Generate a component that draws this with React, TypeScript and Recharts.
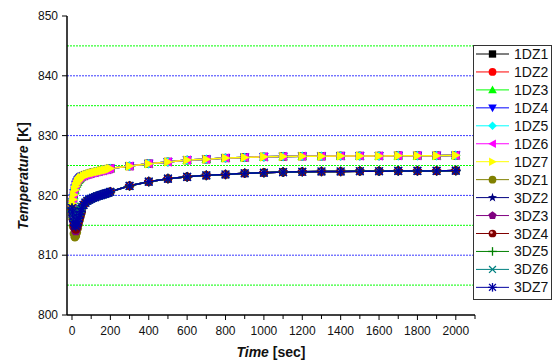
import React from 'react';
import { LineChart, Line, XAxis, YAxis, CartesianGrid } from 'recharts';

// time samples (sec)
const headTimes = [0, 3, 6, 10, 15, 20, 25, 30, 35, 40, 45, 50];
const tailTimes = [60, 70, 80, 90, 100, 110, 120, 130, 140, 150, 160, 170, 180, 190, 200,
  300, 400, 500, 600, 700, 800, 900, 1000, 1100, 1200, 1300, 1400, 1500, 1600, 1700, 1800, 1900, 2000];

// shared settled parts of the two groups (K)
const upperTail = [823.25, 823.4, 823.5, 823.6, 823.7, 823.8, 823.85, 823.95, 824.0, 824.1, 824.15, 824.25, 824.3, 824.4, 824.5,
  824.9, 825.3, 825.6, 825.9, 826.05, 826.25, 826.35, 826.45, 826.5, 826.55, 826.55, 826.6, 826.6, 826.6, 826.65, 826.65, 826.65, 826.7];
const lowerTail = [818.4, 818.8, 819.1, 819.3, 819.45, 819.6, 819.7, 819.85, 819.95, 820.05, 820.15, 820.25, 820.35, 820.45, 820.6,
  821.6, 822.3, 822.8, 823.1, 823.35, 823.5, 823.7, 823.8, 823.9, 823.95, 824.0, 824.0, 824.05, 824.05, 824.1, 824.1, 824.1, 824.15];

// early transients per series (K)
const head1DZ1 = [818.0, 818.6, 819.3, 820.1, 821.0, 821.6, 822.0, 822.3, 822.6, 822.8, 823.0, 823.1];
const head1DZ2 = [818.1, 818.7, 819.4, 820.2, 821.0, 821.6, 822.0, 822.3, 822.6, 822.8, 822.95, 823.05];
const head1DZ3 = [817.9, 818.5, 819.2, 820.0, 820.9, 821.5, 822.0, 822.3, 822.6, 822.8, 823.0, 823.1];
const head1DZ4 = [818.2, 818.9, 819.6, 820.4, 821.2, 821.8, 822.2, 822.5, 822.7, 822.9, 823.05, 823.15];
const head1DZ5 = [818.0, 818.7, 819.4, 820.2, 821.1, 821.7, 822.1, 822.4, 822.6, 822.8, 823.0, 823.1];
const head1DZ6 = [818.3, 819.0, 819.7, 820.5, 821.3, 821.9, 822.3, 822.6, 822.8, 823.0, 823.1, 823.2];
const head1DZ7 = [818.0, 818.6, 819.3, 820.1, 820.9, 821.5, 821.9, 822.3, 822.5, 822.7, 822.9, 823.0];
const head3DZ1 = [817.6, 816.2, 814.8, 813.6, 813.0, 813.2, 813.8, 814.5, 815.2, 815.9, 816.5, 817.1];
const head3DZ2 = [817.8, 817.2, 816.5, 815.8, 815.3, 815.2, 815.5, 816.0, 816.5, 817.0, 817.5, 817.9];
const head3DZ3 = [817.6, 816.7, 815.7, 814.8, 814.2, 814.0, 814.3, 814.9, 815.5, 816.1, 816.7, 817.3];
const head3DZ4 = [817.7, 816.9, 816.0, 815.1, 814.5, 814.3, 814.6, 815.1, 815.7, 816.3, 816.9, 817.4];
const head3DZ5 = [817.8, 817.3, 816.7, 816.1, 815.7, 815.6, 815.8, 816.2, 816.7, 817.2, 817.6, 818.0];
const head3DZ6 = [817.9, 817.4, 816.9, 816.4, 816.0, 815.9, 816.1, 816.5, 816.9, 817.3, 817.7, 818.1];
const head3DZ7 = [817.9, 817.2, 816.4, 815.6, 815.0, 814.8, 815.1, 815.6, 816.2, 816.8, 817.3, 817.8];

const seriesNames = ['1DZ1', '1DZ2', '1DZ3', '1DZ4', '1DZ5', '1DZ6', '1DZ7', '3DZ1', '3DZ2', '3DZ3', '3DZ4', '3DZ5', '3DZ6', '3DZ7'];
const seriesHeads = [head1DZ1, head1DZ2, head1DZ3, head1DZ4, head1DZ5, head1DZ6, head1DZ7,
  head3DZ1, head3DZ2, head3DZ3, head3DZ4, head3DZ5, head3DZ6, head3DZ7];
const seriesTails = [upperTail, upperTail, upperTail, upperTail, upperTail, upperTail, upperTail,
  lowerTail, lowerTail, lowerTail, lowerTail, lowerTail, lowerTail, lowerTail];
const seriesColors = ['#000000', '#ff0000', '#00ff00', '#0000ff', '#00ffff', '#ff00ff', '#ffff00',
  '#808000', '#000080', '#800080', '#800000', '#008000', '#008080', '#0000a0'];
const seriesMarkers = ['square', 'circle', 'up', 'down', 'diamond', 'left', 'right',
  'circle', 'star', 'pentagon', 'sphere', 'plus', 'cross', 'asterisk'];

const xTicks = [0, 100, 200, 300, 400, 500, 600, 700, 800, 900, 1000, 1100, 1200, 1300, 1400, 1500, 1600, 1700, 1800, 1900, 2000, 2100];
const yTicks = [800, 810, 820, 830, 840, 850];
const greenGrid = [805, 815, 825, 835, 845];
const blueGrid = [810, 820, 830, 840];

const times = [...headTimes, ...tailTimes];
const data = times.map((t, i) => {
  const row: Record<string, number> = { t };
  seriesNames.forEach((n, s) => {
    const all = [...seriesHeads[s], ...seriesTails[s]];
    row[n] = all[i];
  });
  return row;
});

const FONT = '"Liberation Sans", Arial, sans-serif';

function marker(shape: string, cx: number, cy: number, color: string, r: number, key?: string) {
  const p = (pts: number[][]) => pts.map((q) => `${cx + q[0]},${cy + q[1]}`).join(' ');
  switch (shape) {
    case 'square':
      return <rect key={key} x={cx - r * 0.85} y={cy - r * 0.85} width={r * 1.7} height={r * 1.7} fill={color} />;
    case 'circle':
      return <circle key={key} cx={cx} cy={cy} r={r * 0.9} fill={color} />;
    case 'up':
      return <polygon key={key} points={p([[0, -r], [r, r * 0.8], [-r, r * 0.8]])} fill={color} />;
    case 'down':
      return <polygon key={key} points={p([[0, r], [r, -r * 0.8], [-r, -r * 0.8]])} fill={color} />;
    case 'diamond':
      return <polygon key={key} points={p([[0, -r], [r, 0], [0, r], [-r, 0]])} fill={color} />;
    case 'left':
      return <polygon key={key} points={p([[-r, 0], [r * 0.8, -r], [r * 0.8, r]])} fill={color} />;
    case 'right':
      return <polygon key={key} points={p([[r, 0], [-r * 0.8, -r], [-r * 0.8, r]])} fill={color} />;
    case 'star': {
      const pts: number[][] = [];
      for (let k = 0; k < 10; k++) {
        const a = -Math.PI / 2 + (k * Math.PI) / 5;
        const rr = k % 2 === 0 ? r * 1.1 : r * 0.45;
        pts.push([rr * Math.cos(a), rr * Math.sin(a)]);
      }
      return <polygon key={key} points={p(pts)} fill={color} />;
    }
    case 'pentagon': {
      const pts: number[][] = [];
      for (let k = 0; k < 5; k++) {
        const a = -Math.PI / 2 + (k * 2 * Math.PI) / 5;
        pts.push([r * Math.cos(a), r * Math.sin(a)]);
      }
      return <polygon key={key} points={p(pts)} fill={color} />;
    }
    case 'sphere':
      return (
        <g key={key}>
          <circle cx={cx} cy={cy} r={r * 0.9} fill={color} />
          <circle cx={cx - r * 0.25} cy={cy - r * 0.25} r={r * 0.3} fill="#ffb0b0" />
        </g>
      );
    case 'plus':
      return (
        <g key={key} stroke={color} strokeWidth={1.3}>
          <line x1={cx - r} y1={cy} x2={cx + r} y2={cy} />
          <line x1={cx} y1={cy - r} x2={cx} y2={cy + r} />
        </g>
      );
    case 'cross':
      return (
        <g key={key} stroke={color} strokeWidth={1.3}>
          <line x1={cx - r * 0.8} y1={cy - r * 0.8} x2={cx + r * 0.8} y2={cy + r * 0.8} />
          <line x1={cx - r * 0.8} y1={cy + r * 0.8} x2={cx + r * 0.8} y2={cy - r * 0.8} />
        </g>
      );
    case 'asterisk':
    default:
      return (
        <g key={key} stroke={color} strokeWidth={1.3}>
          <line x1={cx - r * 0.8} y1={cy - r * 0.8} x2={cx + r * 0.8} y2={cy + r * 0.8} />
          <line x1={cx - r * 0.8} y1={cy + r * 0.8} x2={cx + r * 0.8} y2={cy - r * 0.8} />
          <line x1={cx - r} y1={cy} x2={cx + r} y2={cy} />
          <line x1={cx} y1={cy - r} x2={cx} y2={cy + r} />
        </g>
      );
  }
}

const XTick = (props: any) => {
  const { x, y, payload } = props;
  const v = payload.value as number;
  const major = v % 200 === 0;
  return (
    <g>
      <line x1={x} y1={y} x2={x} y2={y + (major ? 5 : 4)} stroke="#000" strokeWidth={1} />
      {major && v <= 2000 ? (
        <text x={x} y={y + 20} textAnchor="middle" fontSize={12} fontFamily={FONT} fill="#111">
          {v}
        </text>
      ) : null}
    </g>
  );
};

export default function App() {
  const legendTop = 54;
  const legendStep = 17.95;
  return (
    <div style={{ position: 'absolute', left: 0, top: 0, width: 555, height: 363, background: '#fff' }}>
      <LineChart width={555} height={363} data={data} margin={{ top: 16, right: 80, bottom: 0, left: 0 }}>
        <CartesianGrid
          vertical={false}
          horizontalValues={greenGrid}
          stroke="#00ff00"
          strokeDasharray="2 1"
          strokeWidth={1}
        />
        <CartesianGrid
          vertical={false}
          horizontalValues={blueGrid}
          stroke="#3a3aff"
          strokeDasharray="2 1"
          strokeWidth={1}
        />
        <XAxis
          dataKey="t"
          type="number"
          domain={[-26, 2100]}
          ticks={xTicks}
          interval={0}
          height={48}
          tickSize={0}
          tickMargin={0}
          tickLine={false}
          tick={XTick}
          axisLine={{ stroke: '#000', strokeWidth: 1.5 }}
        />
        <YAxis
          type="number"
          domain={[800, 850]}
          ticks={yTicks}
          interval={0}
          width={67}
          tickSize={5}
          tickMargin={4}
          tickLine={{ stroke: '#000', strokeWidth: 1 }}
          axisLine={{ stroke: '#000', strokeWidth: 1.5 }}
          tick={{ fontSize: 12, fontFamily: FONT, fill: '#111' }}
        />
        {seriesNames.map((n, s) => (
          <Line
            key={n}
            dataKey={n}
            type="linear"
            stroke={seriesColors[s]}
            strokeWidth={1.5}
            isAnimationActive={false}
            dot={(dp: any) => marker(seriesMarkers[s], dp.cx, dp.cy, seriesColors[s], 4.8, `${n}-${dp.index}`)}
            activeDot={false}
          />
        ))}
      </LineChart>
      <svg
        width={555}
        height={363}
        style={{ position: 'absolute', left: 0, top: 0, pointerEvents: 'none' }}
      >
        <text
          transform="translate(28,176) rotate(-90)"
          textAnchor="middle"
          fontSize={14}
          fontWeight="bold"
          fontFamily={FONT}
          fill="#111"
        >
          <tspan fontStyle="italic">Temperature</tspan> [K]
        </text>
        <text x={271} y={357} textAnchor="middle" fontSize={14} fontWeight="bold" fontFamily={FONT} fill="#111">
          <tspan fontStyle="italic">Time</tspan> [sec]
        </text>
        <rect x={473.5} y={45.5} width={78} height={254} fill="#fff" stroke="#333" strokeWidth={1} />
        {seriesNames.map((n, s) => {
          const y = legendTop + s * legendStep;
          return (
            <g key={`lg${n}`}>
              <line x1={476} y1={y} x2={509} y2={y} stroke={seriesColors[s]} strokeWidth={1} />
              {marker(seriesMarkers[s], 492.5, y, seriesColors[s], 4.3)}
              <text x={514} y={y + 5} fontSize={14} fontFamily={FONT} fill="#111">
                {n}
              </text>
            </g>
          );
        })}
      </svg>
    </div>
  );
}
